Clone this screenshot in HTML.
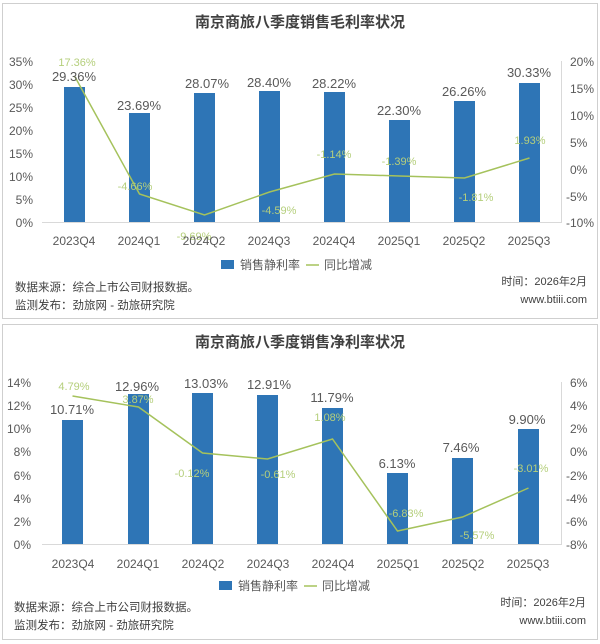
<!DOCTYPE html>
<html><head><meta charset="utf-8"><style>
body{margin:0;background:#fff;}
svg{display:block;font-family:"Liberation Sans","Noto Sans CJK SC",sans-serif;}
</style></head><body>
<svg width="600" height="644" viewBox="0 0 600 644">
<rect x="0" y="0" width="600" height="644" fill="#fff"/>
<rect x="2.5" y="3.5" width="595" height="315" fill="none" stroke="#cfcfcf"/>
<rect x="2.5" y="324.5" width="595" height="315" fill="none" stroke="#cfcfcf"/>
<g fill="#404040" font-weight="bold" font-size="15" text-anchor="middle">
<text x="300" y="27">南京商旅八季度销售毛利率状况</text>
<text x="300" y="347">南京商旅八季度销售净利率状况</text>
</g>
<!-- chart1 -->
<g font-size="12" fill="#595959">
<g text-anchor="end">
<text x="33" y="66">35%</text><text x="33" y="89">30%</text><text x="33" y="112">25%</text><text x="33" y="135">20%</text><text x="33" y="158">15%</text><text x="33" y="181">10%</text><text x="33" y="204">5%</text><text x="33" y="227">0%</text>
</g>
<g text-anchor="start">
<text x="570" y="66">20%</text><text x="570" y="93">15%</text><text x="570" y="120">10%</text><text x="570" y="147">5%</text><text x="570" y="174">0%</text><text x="566" y="201">-5%</text><text x="566" y="227">-10%</text>
</g>
<line x1="42" y1="222.5" x2="562" y2="222.5" stroke="#d9d9d9"/>
<line x1="561.5" y1="61" x2="561.5" y2="222" stroke="#d9d9d9"/>
<g fill="#2e75b6">
<rect x="64" y="87" width="21" height="135"/>
<rect x="129" y="113" width="21" height="109"/>
<rect x="194" y="93" width="21" height="129"/>
<rect x="259" y="91" width="21" height="131"/>
<rect x="324" y="92" width="21" height="130"/>
<rect x="389" y="120" width="21" height="102"/>
<rect x="454" y="101" width="21" height="121"/>
<rect x="519" y="83" width="21" height="139"/>
</g>
<polyline fill="none" stroke="#a5c25c" stroke-width="1.5" points="74.5,76 139.5,194 204.5,215 269.5,192 334.5,174 399.5,176 464.5,178 529.5,158"/>
<g text-anchor="middle" font-size="13">
<text x="74" y="81">29.36%</text><text x="139" y="110">23.69%</text><text x="207" y="88">28.07%</text><text x="269" y="87">28.40%</text><text x="334" y="88">28.22%</text><text x="399" y="115">22.30%</text><text x="464" y="96">26.26%</text><text x="529" y="77">30.33%</text>
</g>
<g text-anchor="middle" font-size="11" fill="#b5cf7c">
<text x="77" y="66">17.36%</text><text x="135" y="190">-4.66%</text><text x="194" y="240">-9.69%</text><text x="279" y="214">-4.59%</text><text x="334" y="158">-1.14%</text><text x="399" y="165">-1.39%</text><text x="476" y="201">-1.81%</text><text x="530" y="144">1.93%</text>
</g>
<g text-anchor="middle">
<text x="74" y="245">2023Q4</text><text x="139" y="245">2024Q1</text><text x="204" y="245">2024Q2</text><text x="269" y="245">2024Q3</text><text x="334" y="245">2024Q4</text><text x="399" y="245">2025Q1</text><text x="464" y="245">2025Q2</text><text x="529" y="245">2025Q3</text>
</g>
<rect x="221" y="260" width="13" height="9" fill="#2e75b6"/>
<text x="240" y="269">销售静利率</text>
<line x1="306" y1="265" x2="319" y2="265" stroke="#a5c25c" stroke-width="1.5"/>
<text x="324" y="269">同比增减</text>
<text x="15" y="291" font-size="11.5" fill="#404040">数据来源：综合上市公司财报数据。</text>
<text x="15" y="309" font-size="11.5" fill="#404040">监测发布：劲旅网 - 劲旅研究院</text>
<text x="587" y="285" font-size="11" text-anchor="end" fill="#404040">时间：2026年2月</text>
<text x="587" y="303" font-size="11" text-anchor="end" fill="#404040">www.btiii.com</text>
</g>
<!-- chart2 -->
<g font-size="12" fill="#595959">
<g text-anchor="end">
<text x="31" y="387">14%</text><text x="31" y="410">12%</text><text x="31" y="433">10%</text><text x="31" y="456">8%</text><text x="31" y="480">6%</text><text x="31" y="503">4%</text><text x="31" y="526">2%</text><text x="31" y="549">0%</text>
</g>
<g text-anchor="start">
<text x="570" y="387">6%</text><text x="570" y="410">4%</text><text x="570" y="433">2%</text><text x="570" y="456">0%</text><text x="566" y="480">-2%</text><text x="566" y="503">-4%</text><text x="566" y="526">-6%</text><text x="566" y="549">-8%</text>
</g>
<line x1="42" y1="544.5" x2="562" y2="544.5" stroke="#d9d9d9"/>
<line x1="561.5" y1="382" x2="561.5" y2="544" stroke="#d9d9d9"/>
<g fill="#2e75b6">
<rect x="62" y="420" width="21" height="124"/>
<rect x="128" y="394" width="21" height="150"/>
<rect x="192" y="393" width="21" height="151"/>
<rect x="257" y="395" width="21" height="149"/>
<rect x="322" y="408" width="21" height="136"/>
<rect x="387" y="473" width="21" height="71"/>
<rect x="452" y="458" width="21" height="86"/>
<rect x="518" y="429" width="21" height="115"/>
</g>
<polyline fill="none" stroke="#a5c25c" stroke-width="1.5" points="72.5,396 138.5,407 202.5,453 267.5,459 332.5,439 397.5,531 462.5,517 528.5,488"/>
<g text-anchor="middle" font-size="13">
<text x="72" y="414">10.71%</text><text x="137" y="391">12.96%</text><text x="206" y="388">13.03%</text><text x="269" y="389">12.91%</text><text x="332" y="402">11.79%</text><text x="397" y="468">6.13%</text><text x="461" y="452">7.46%</text><text x="527" y="424">9.90%</text>
</g>
<g text-anchor="middle" font-size="11" fill="#b5cf7c">
<text x="74" y="390">4.79%</text><text x="138" y="403">3.87%</text><text x="192" y="477">-0.12%</text><text x="278" y="478">-0.61%</text><text x="330" y="421">1.08%</text><text x="406" y="517">-6.83%</text><text x="477" y="539">-5.57%</text><text x="531" y="472">-3.01%</text>
</g>
<g text-anchor="middle">
<text x="73" y="568">2023Q4</text><text x="138" y="568">2024Q1</text><text x="203" y="568">2024Q2</text><text x="268" y="568">2024Q3</text><text x="333" y="568">2024Q4</text><text x="398" y="568">2025Q1</text><text x="463" y="568">2025Q2</text><text x="528" y="568">2025Q3</text>
</g>
<rect x="219" y="581" width="13" height="9" fill="#2e75b6"/>
<text x="238" y="590">销售静利率</text>
<line x1="304" y1="586" x2="317" y2="586" stroke="#a5c25c" stroke-width="1.5"/>
<text x="322" y="590">同比增减</text>
<text x="14" y="611" font-size="11.5" fill="#404040">数据来源：综合上市公司财报数据。</text>
<text x="14" y="629" font-size="11.5" fill="#404040">监测发布：劲旅网 - 劲旅研究院</text>
<text x="586" y="606" font-size="11" text-anchor="end" fill="#404040">时间：2026年2月</text>
<text x="586" y="624" font-size="11" text-anchor="end" fill="#404040">www.btiii.com</text>
</g>
</svg>
</body></html>
